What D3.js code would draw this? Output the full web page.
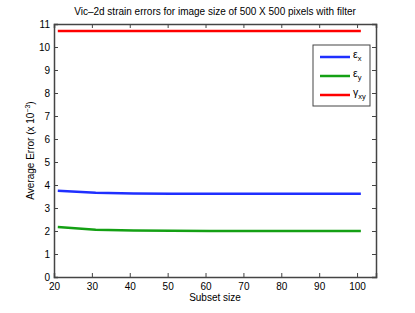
<!DOCTYPE html>
<html>
<head>
<meta charset="utf-8">
<script src="https://cdn.jsdelivr.net/npm/d3@7"></script>
<style>
  body { margin: 0; background: #fff; }
  text { font-family: "Liberation Sans", Arial, sans-serif; }
</style>
</head>
<body>
<div id="chart"></div>
<script>
const width = 415, height = 313;
const margin = { top: 24, right: 39, bottom: 36, left: 54 };

// data
const subsetSizes = [21, 31, 41, 51, 61, 71, 81, 91, 101];
const epsX = [3.75, 3.66, 3.63, 3.62, 3.62, 3.62, 3.62, 3.62, 3.62];
const epsY = [2.17, 2.05, 2.02, 2.01, 2.0, 2.0, 2.0, 2.0, 2.0];
const gammaXY = [10.7, 10.7, 10.7, 10.7, 10.7, 10.7, 10.7, 10.7, 10.7];
const xTicks = [20, 30, 40, 50, 60, 70, 80, 90, 100];
const yTicks = [0, 1, 2, 3, 4, 5, 6, 7, 8, 9, 10, 11];

const series = [
    { name: "x", sym: "ε", values: epsX, color: "#1f2fff" },
    { name: "y", sym: "ε", values: epsY, color: "#14a014" },
    { name: "xy", sym: "γ", values: gammaXY, color: "#ff0000" }
];

const svg = d3.select("#chart").append("svg")
    .attr("width", width)
    .attr("height", height);

const x = d3.scaleLinear().domain([20, 105]).range([margin.left, width - margin.right]);
const y = d3.scaleLinear().domain([0, 11]).range([height - margin.bottom, margin.top]);

const axisColor = "#444";
const fs = "10px";

// lines
const line = d3.line().x((d, i) => x(subsetSizes[i])).y(d => y(d));
series.forEach(s => {
    svg.append("path")
        .datum(s.values)
        .attr("fill", "none")
        .attr("stroke", s.color)
        .attr("stroke-width", 2.5)
        .attr("d", line);
});

// axes, ticks pointing inward like matlab
const tickLen = 4;
svg.append("g")
    .attr("transform", `translate(0,${y(0)})`)
    .call(d3.axisBottom(x).tickValues(xTicks).tickSize(-tickLen).tickPadding(6))
    .call(g => g.selectAll("text").style("font-size", fs).attr("fill", "#000"));
svg.append("g")
    .attr("transform", `translate(${x(20)},0)`)
    .call(d3.axisLeft(y).tickValues(yTicks).tickSize(-tickLen).tickPadding(4))
    .call(g => g.selectAll("text").style("font-size", fs).attr("fill", "#000"));
svg.append("g")
    .attr("transform", `translate(0,${y(11)})`)
    .call(d3.axisTop(x).tickValues(xTicks).tickSize(-tickLen).tickFormat(""));
svg.append("g")
    .attr("transform", `translate(${x(105)},0)`)
    .call(d3.axisRight(y).tickValues(yTicks).tickSize(-tickLen).tickFormat(""));

svg.selectAll(".domain, .tick line").attr("stroke", axisColor).attr("stroke-width", 1);
svg.selectAll(".domain").attr("stroke-width", 1.5);

// title
svg.append("text")
    .attr("x", (x(20) + x(105)) / 2)
    .attr("y", 15)
    .attr("text-anchor", "middle")
    .style("font-size", fs)
    .text("Vic\u20132d strain errors for image size of 500 X 500 pixels with filter");

// x label
svg.append("text")
    .attr("x", (x(20) + x(105)) / 2)
    .attr("y", 301)
    .attr("text-anchor", "middle")
    .style("font-size", fs)
    .text("Subset size");

// y label
const yl = svg.append("text")
    .attr("transform", `translate(34,${(y(0) + y(11)) / 2}) rotate(-90)`)
    .attr("text-anchor", "middle")
    .style("font-size", fs);
yl.append("tspan").text("Average Error (x 10");
yl.append("tspan").attr("dy", -4).style("font-size", "7px").text("\u22123");
yl.append("tspan").attr("dy", 4).text(")");

// legend
const legend = svg.append("g").attr("transform", "translate(313,45)");
legend.append("rect")
    .attr("width", 57).attr("height", 61)
    .attr("fill", "#fff").attr("stroke", axisColor).attr("stroke-width", 1);
series.forEach((s, i) => {
    const ly = 12 + i * 19;
    legend.append("line")
        .attr("x1", 7).attr("x2", 37)
        .attr("y1", ly).attr("y2", ly)
        .attr("stroke", s.color).attr("stroke-width", 2.5);
    const t = legend.append("text")
        .attr("x", 40).attr("y", ly + 1)
        .style("font-size", "10.5px");
    t.append("tspan").text(s.sym);
    t.append("tspan").attr("dy", 3).style("font-size", "7.5px").text(s.name);
});
</script>
</body>
</html>
